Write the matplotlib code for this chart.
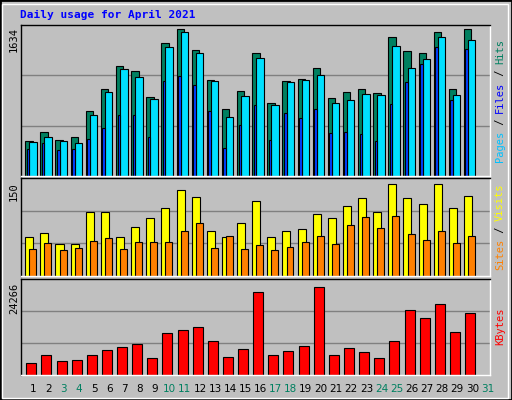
import numpy as np
import matplotlib.pyplot as plt
from matplotlib.patches import Rectangle

days = list(range(1, 32))
weekend = [3, 4, 10, 11, 17, 18, 24, 25, 31]
hits = [378, 476, 389, 421, 705, 944, 1195, 1140, 857, 1445, 1598, 1369, 1042, 726, 922,
        1336, 792, 1031, 1053, 1173, 846, 911, 944, 900, 1511, 1358, 1336, 1565, 944, 1598]
files = [367, 421, 378, 356, 661, 911, 1162, 1075, 835, 1402, 1565, 1336, 1031, 639, 868,
         1282, 770, 1020, 1042, 1097, 792, 824, 890, 879, 1413, 1173, 1271, 1511, 879, 1478]
pages = [290, 356, 280, 290, 400, 519, 661, 661, 421, 1031, 1086, 988, 705, 301, 552,
         770, 389, 683, 628, 726, 465, 476, 454, 378, 781, 1020, 1216, 1402, 824, 1380]
visits = [59, 65, 48, 48, 97, 97, 59, 74, 88, 102, 130, 120, 68, 59, 80,
          114, 59, 68, 71, 94, 88, 105, 118, 97, 139, 118, 108, 139, 102, 121]
sites = [41, 50, 39, 42, 53, 58, 41, 52, 52, 52, 68, 80, 42, 61, 41,
         47, 39, 44, 52, 61, 48, 77, 89, 73, 91, 64, 55, 68, 50, 61]
kbytes = [2941, 5147, 3431, 3677, 5147, 6373, 7108, 7843, 4412, 10539, 11275, 12010, 8579, 4657, 6618,
          21079, 5147, 6128, 7353, 22304, 5147, 6863, 5882, 4412, 8579, 16422, 14461, 17892, 10784, 15686]

W, H = 512, 400
fig = plt.figure(figsize=(W / 100, H / 100), dpi=100, facecolor='#C0C0C0')
fig.patches.append(Rectangle((0, 0), 1, 1, transform=fig.transFigure, fill=False,
                             edgecolor='black', linewidth=2))
fig.patches.append(Rectangle((2 / W, 2 / H), 1 - 6 / W, 1 - 6 / H, transform=fig.transFigure, fill=False,
                             edgecolor='white', linewidth=1))
mono = 'DejaVu Sans Mono'
fig.text(20 / W, 1 - 15 / H, 'Daily usage for April 2021', color='#0000FF', fontweight='bold',
         family=mono, fontsize=8, va='center')

x0, x1 = 21, 490
def panel(top, bot):
    ax = fig.add_axes([x0 / W, 1 - bot / H, (x1 - x0) / W, (bot - top) / H])
    ax.set_facecolor('#C0C0C0')
    ax.set_xlim(0.5, 31.5)
    ax.set_xticks([])
    ax.set_yticks([])
    for s in ax.spines.values():
        s.set_color('black')
        s.set_linewidth(1)
    ax.spines['right'].set_color('white')
    ax.spines['bottom'].set_color('white')
    return ax

def grid(ax, top):
    for f in (1 / 3, 2 / 3):
        ax.axhline(top * f, color='#808080', linewidth=1, zorder=0)

def side_label(top_px, bot_px, parts, ycenter=None):
    total = sum(len(t) for t, c in parts)
    adv = 6.1
    start = (top_px + bot_px) / 2 + total * adv / 2
    pos = start
    for t, c in parts:
        fig.text(500 / W, 1 - pos / H, t, color=c, family=mono, fontsize=7.5, rotation=90,
                 ha='center', va='bottom')
        pos -= len(t) * adv

def bars(ax, vals, a, b, color):
    x = np.array(days[:len(vals)]) - 0.5 + a
    ax.bar(x, vals, width=b - a, align='edge', color=color, edgecolor='black', linewidth=0.8)

# top panel
ax = panel(25, 176)
top1 = 1634 * 1.0
ax.set_ylim(0, 1634 * 150 / 146.7 * 0.98)
grid(ax, ax.get_ylim()[1])
bars(ax, hits, 0.28, 0.77, '#008060')
bars(ax, files, 0.55, 1.04, '#00E0FF')
bars(ax, pages, 0.38, 0.55, '#0040FF')
fig.text(14 / W, 1 - 40 / H, '1634', rotation=90, family=mono, fontsize=7.5, ha='center', va='center')
side_label(25, 176, [('Pages', '#00C0FF'), (' / ', 'black'), ('Files', '#0000FF'), (' / ', 'black'), ('Hits', '#008060')])

# middle panel
ax = panel(178, 276)
ax.set_ylim(0, 150 * 99 / 99)
ax.set_ylim(0, 148)
grid(ax, 148)
bars(ax, visits, 0.28, 0.81, '#FFFF00')
bars(ax, sites, 0.55, 1.01, '#FF8000')
fig.text(14 / W, 1 - 192 / H, '150', rotation=90, family=mono, fontsize=7.5, ha='center', va='center')
side_label(178, 276, [('Sites', '#FF8000'), (' / ', 'black'), ('Visits', '#FFFF00')])

# bottom panel
ax = panel(279, 375)
ax.set_ylim(0, 24266 * 1.0)
grid(ax, 24266)
bars(ax, kbytes, 0.35, 1.01, '#FF0000')
fig.text(14 / W, 1 - 298 / H, '24266', rotation=90, family=mono, fontsize=7.5, ha='center', va='center')
side_label(279, 375, [('KBytes', '#FF0000')])

for d in days:
    xp = x0 + (d - 0.5) * (x1 - x0) / 31 + 5
    fig.text(xp / W, 1 - 389 / H, str(d), color='#008060' if d in weekend else 'black',
             family='DejaVu Sans', fontsize=7.5, ha='center', va='center')

fig.savefig('out.png', dpi=100, facecolor=fig.get_facecolor())
